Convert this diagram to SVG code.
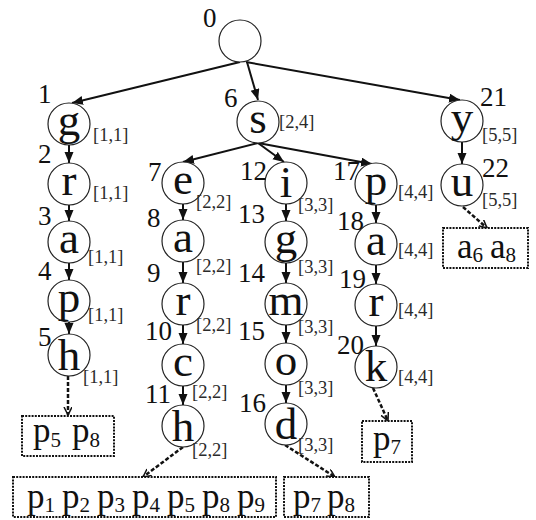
<svg xmlns="http://www.w3.org/2000/svg" width="536" height="520" viewBox="0 0 536 520">
<style>
.nd{fill:#fff;stroke:#222;stroke-width:1.2}
.lt{font-family:"Liberation Serif","Times New Roman",serif;font-size:45px;fill:#111;text-anchor:middle}
.num{font-family:"Liberation Serif","Times New Roman",serif;font-size:27px;fill:#111}
.rg{font-family:"Liberation Serif","Times New Roman",serif;font-size:18.5px;fill:#2a2a2a}
.bx{fill:#fff;stroke:#111;stroke-width:2;stroke-dasharray:2 1.2}
.bt{font-family:"Liberation Serif","Times New Roman",serif;font-size:35px;fill:#111}
.sb{font-size:21px}
.e{stroke:#111;stroke-width:2;fill:none;marker-end:url(#ah)}
.d{stroke:#111;stroke-width:2.5;fill:none;stroke-dasharray:4 2;marker-end:url(#oh)}
</style>
<defs>
<marker id="ah" markerUnits="userSpaceOnUse" markerWidth="12" markerHeight="10" refX="11" refY="4.5" orient="auto"><path d="M0,0 L11,4.5 L0,9 z" fill="#111"/></marker>
<marker id="oh" markerUnits="userSpaceOnUse" markerWidth="10" markerHeight="10" refX="8" refY="4" orient="auto"><path d="M0,0 L8,4 L0,8" fill="none" stroke="#111" stroke-width="1.5"/></marker>
</defs>
<g id="connectors">
<path class="e" d="M240,62 L72,103"/>
<path class="e" d="M247,62 L258,100"/>
<path class="e" d="M246,62 L460,100"/>
<path class="e" d="M258,143 L183,162"/>
<path class="e" d="M258,143 L284,162"/>
<path class="e" d="M258,143 L372,164"/>
<path class="e" d="M69,145 L69,163"/>
<path class="e" d="M69,205 L69,221"/>
<path class="e" d="M69,263 L69,280"/>
<path class="e" d="M69,322 L69,334"/>
<path class="e" d="M183,204 L183,220"/>
<path class="e" d="M183,262 L183,283"/>
<path class="e" d="M183,325 L183,344"/>
<path class="e" d="M183,386 L183,405"/>
<path class="e" d="M286,204 L286,221"/>
<path class="e" d="M286,263 L286,283"/>
<path class="e" d="M286,325 L286,343"/>
<path class="e" d="M286,385 L286,403"/>
<path class="e" d="M376,205 L376,223"/>
<path class="e" d="M376,265 L376,284"/>
<path class="e" d="M376,326 L376,346"/>
<path class="e" d="M462,142 L462,164"/>
<path class="d" d="M68,376 L68,415"/>
<path class="d" d="M183,447 L143,477"/>
<path class="d" d="M285,445 L335,477"/>
<path class="d" d="M373,388 L388,421"/>
<path class="d" d="M463,207 L487,228"/>
</g>
<g id="n0"><circle class="nd" cx="240" cy="41" r="21"/><text class="num" x="203" y="27">0</text></g>
<g id="n1"><circle class="nd" cx="69" cy="124" r="21"/><text class="lt" x="69" y="135">g</text><text class="num" x="38" y="103">1</text><text class="rg" x="93" y="141">[1,1]</text></g>
<g id="n2"><circle class="nd" cx="69" cy="184" r="21"/><text class="lt" x="69" y="195">r</text><text class="num" x="38" y="163">2</text><text class="rg" x="93" y="199">[1,1]</text></g>
<g id="n3"><circle class="nd" cx="69" cy="242" r="21"/><text class="lt" x="69" y="253">a</text><text class="num" x="38" y="225">3</text><text class="rg" x="88" y="263">[1,1]</text></g>
<g id="n4"><circle class="nd" cx="69" cy="301" r="21"/><text class="lt" x="69" y="312">p</text><text class="num" x="38" y="280">4</text><text class="rg" x="88" y="321">[1,1]</text></g>
<g id="n5"><circle class="nd" cx="69" cy="355" r="21"/><text class="lt" x="69" y="370">h</text><text class="num" x="38" y="346">5</text><text class="rg" x="83" y="383">[1,1]</text></g>
<g id="n6"><circle class="nd" cx="258" cy="122" r="21"/><text class="lt" x="258" y="133">s</text><text class="num" x="224" y="107">6</text><text class="rg" x="279" y="128">[2,4]</text></g>
<g id="n7"><circle class="nd" cx="183" cy="183" r="21"/><text class="lt" x="183" y="194">e</text><text class="num" x="148" y="181">7</text><text class="rg" x="196" y="208">[2,2]</text></g>
<g id="n8"><circle class="nd" cx="183" cy="241" r="21"/><text class="lt" x="183" y="252">a</text><text class="num" x="147" y="227">8</text><text class="rg" x="196" y="272">[2,2]</text></g>
<g id="n9"><circle class="nd" cx="183" cy="304" r="21"/><text class="lt" x="183" y="315">r</text><text class="num" x="147" y="282">9</text><text class="rg" x="196" y="331">[2,2]</text></g>
<g id="n10"><circle class="nd" cx="183" cy="365" r="21"/><text class="lt" x="183" y="376">c</text><text class="num" x="145" y="340">10</text><text class="rg" x="192" y="398">[2,2]</text></g>
<g id="n11"><circle class="nd" cx="183" cy="426" r="21"/><text class="lt" x="183" y="441">h</text><text class="num" x="145" y="403">11</text><text class="rg" x="192" y="456">[2,2]</text></g>
<g id="n12"><circle class="nd" cx="286" cy="183" r="21"/><text class="lt" x="286" y="197">i</text><text class="num" x="240" y="180">12</text><text class="rg" x="298" y="211">[3,3]</text></g>
<g id="n13"><circle class="nd" cx="286" cy="242" r="21"/><text class="lt" x="286" y="253">g</text><text class="num" x="238" y="223">13</text><text class="rg" x="298" y="273">[3,3]</text></g>
<g id="n14"><circle class="nd" cx="286" cy="304" r="21"/><text class="lt" x="286" y="315">m</text><text class="num" x="238" y="282">14</text><text class="rg" x="298" y="333">[3,3]</text></g>
<g id="n15"><circle class="nd" cx="286" cy="364" r="21"/><text class="lt" x="286" y="375">o</text><text class="num" x="238" y="340">15</text><text class="rg" x="298" y="394">[3,3]</text></g>
<g id="n16"><circle class="nd" cx="286" cy="424" r="21"/><text class="lt" x="286" y="439">d</text><text class="num" x="239" y="412">16</text><text class="rg" x="298" y="451">[3,3]</text></g>
<g id="n17"><circle class="nd" cx="376" cy="184" r="21"/><text class="lt" x="376" y="195">p</text><text class="num" x="333" y="180">17</text><text class="rg" x="398" y="198">[4,4]</text></g>
<g id="n18"><circle class="nd" cx="376" cy="244" r="21"/><text class="lt" x="376" y="255">a</text><text class="num" x="337" y="230">18</text><text class="rg" x="398" y="256">[4,4]</text></g>
<g id="n19"><circle class="nd" cx="376" cy="305" r="21"/><text class="lt" x="376" y="316">r</text><text class="num" x="339" y="288">19</text><text class="rg" x="398" y="316">[4,4]</text></g>
<g id="n20"><circle class="nd" cx="376" cy="367" r="21"/><text class="lt" x="376" y="381">k</text><text class="num" x="337" y="354">20</text><text class="rg" x="398" y="383">[4,4]</text></g>
<g id="n21"><circle class="nd" cx="462" cy="121" r="21"/><text class="lt" x="462" y="132">y</text><text class="num" x="480" y="106">21</text><text class="rg" x="482" y="141">[5,5]</text></g>
<g id="n22"><circle class="nd" cx="462" cy="185" r="21"/><text class="lt" x="462" y="196">u</text><text class="num" x="482" y="177">22</text><text class="rg" x="482" y="206">[5,5]</text></g>
<g id="b1"><rect class="bx" x="22" y="416" width="92" height="40"/>
<text class="bt" x="33" y="442">p<tspan class="sb" dy="5">5</tspan></text>
<text class="bt" x="72" y="442">p<tspan class="sb" dy="5">8</tspan></text></g>
<g id="b2"><rect class="bx" x="13" y="477" width="263" height="40"/>
<text class="bt" x="27" y="508">p<tspan class="sb" dy="4">1</tspan></text>
<text class="bt" x="62" y="508">p<tspan class="sb" dy="4">2</tspan></text>
<text class="bt" x="97" y="508">p<tspan class="sb" dy="4">3</tspan></text>
<text class="bt" x="132" y="508">p<tspan class="sb" dy="4">4</tspan></text>
<text class="bt" x="167" y="508">p<tspan class="sb" dy="4">5</tspan></text>
<text class="bt" x="202" y="508">p<tspan class="sb" dy="4">8</tspan></text>
<text class="bt" x="237" y="508">p<tspan class="sb" dy="4">9</tspan></text></g>
<g id="b3"><rect class="bx" x="284" y="477" width="85" height="40"/>
<text class="bt" x="293" y="508">p<tspan class="sb" dy="4">7</tspan></text>
<text class="bt" x="327" y="508">p<tspan class="sb" dy="4">8</tspan></text></g>
<g id="b4"><rect class="bx" x="362" y="421" width="50" height="41"/>
<text class="bt" x="373" y="450">p<tspan class="sb" dy="4">7</tspan></text></g>
<g id="b5"><rect class="bx" x="443" y="228" width="85" height="40"/>
<text class="bt" x="457" y="258">a<tspan class="sb" dy="4">6</tspan></text>
<text class="bt" x="490" y="258">a<tspan class="sb" dy="4">8</tspan></text></g>
</svg>
